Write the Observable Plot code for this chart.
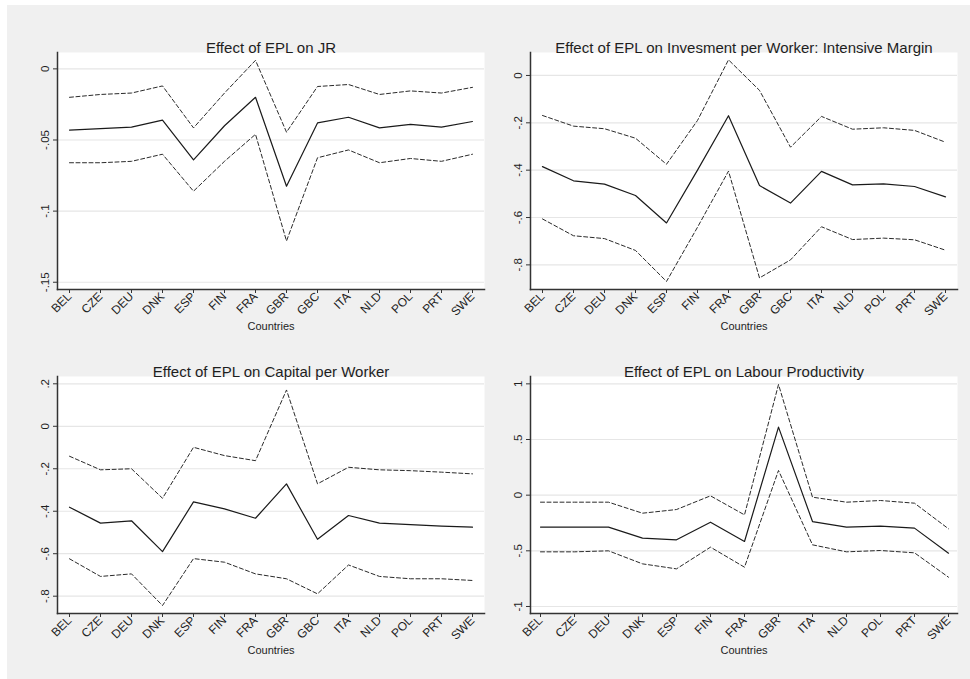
<!DOCTYPE html>
<html>
<head>
<meta charset="utf-8">
<script src="https://cdn.jsdelivr.net/npm/d3@7"></script>
<script src="https://cdn.jsdelivr.net/npm/@observablehq/plot@0.6"></script>
<style>
  html, body { margin: 0; padding: 0; background: #ffffff; }
  #page { position: relative; width: 970px; height: 679px; overflow: hidden; background: #ffffff; }
  #bg { position: absolute; left: 7px; top: 5px; width: 963px; height: 674px; background: #f0f0f0; }
  .panel { position: absolute; }
</style>
</head>
<body>
<div id="page"><div id="bg"></div></div>
<script>
// ---- Data ----
const countries14 = ["BEL","CZE","DEU","DNK","ESP","FIN","FRA","GBR","GBC","ITA","NLD","POL","PRT","SWE"];
const countries13 = ["BEL","CZE","DEU","DNK","ESP","FIN","FRA","GBR","ITA","NLD","POL","PRT","SWE"];

// Panel 1: Effect of EPL on JR
const jrEst = [-0.043,-0.042,-0.041,-0.036,-0.064,-0.040,-0.020,-0.0825,-0.038,-0.034,-0.0415,-0.039,-0.041,-0.037];
const jrHi  = [-0.020,-0.018,-0.017,-0.012,-0.0415,-0.017,0.006,-0.0445,-0.0124,-0.011,-0.018,-0.0155,-0.017,-0.013];
const jrLo  = [-0.066,-0.066,-0.065,-0.060,-0.086,-0.065,-0.046,-0.121,-0.0625,-0.057,-0.066,-0.063,-0.065,-0.060];
const jrTicks = [0,-0.05,-0.1,-0.15];

// Panel 2: Investment per worker, intensive margin
const invEst = [-0.385,-0.445,-0.459,-0.507,-0.623,-0.400,-0.170,-0.465,-0.539,-0.405,-0.462,-0.458,-0.469,-0.513];
const invHi  = [-0.169,-0.214,-0.225,-0.265,-0.375,-0.190,0.066,-0.063,-0.303,-0.173,-0.227,-0.221,-0.232,-0.282];
const invLo  = [-0.606,-0.677,-0.689,-0.739,-0.870,-0.641,-0.404,-0.855,-0.779,-0.639,-0.693,-0.687,-0.694,-0.738];
const invTicks = [0,-0.2,-0.4,-0.6,-0.8];

// Panel 3: Capital per worker
const capEst = [-0.381,-0.456,-0.445,-0.590,-0.356,-0.389,-0.433,-0.271,-0.532,-0.420,-0.456,-0.463,-0.470,-0.475];
const capHi  = [-0.141,-0.205,-0.200,-0.339,-0.099,-0.138,-0.162,0.171,-0.271,-0.193,-0.205,-0.209,-0.216,-0.224];
const capLo  = [-0.624,-0.707,-0.695,-0.844,-0.623,-0.640,-0.695,-0.718,-0.789,-0.653,-0.707,-0.718,-0.718,-0.726];
const capTicks = [0.2,0,-0.2,-0.4,-0.6,-0.8];

// Panel 4: Labour productivity
const lpEst = [-0.287,-0.287,-0.287,-0.386,-0.401,-0.243,-0.416,0.611,-0.237,-0.287,-0.278,-0.296,-0.521];
const lpHi  = [-0.063,-0.063,-0.063,-0.162,-0.129,-0.006,-0.177,0.994,-0.018,-0.063,-0.048,-0.072,-0.302];
const lpLo  = [-0.509,-0.509,-0.500,-0.617,-0.662,-0.467,-0.647,0.222,-0.446,-0.509,-0.497,-0.518,-0.737];
const lpTicks = [1,0.5,0,-0.5,-1];

const titles = [
  "Effect of EPL on JR",
  "Effect of EPL on Invesment per Worker: Intensive Margin",
  "Effect of EPL on Capital per Worker",
  "Effect of EPL on Labour Productivity"
];
const xLabel = "Countries";

// ---- Helpers ----
const stataFmt = v => {
  if (v === 0) return "0";
  let s = String(+v.toFixed(4));
  return s.replace(/^(-?)0\./, "$1.");
};

function rows(countries, est, lo, hi) {
  return countries.map((c, i) => ({country: c, est: est[i], lo: lo[i], hi: hi[i]}));
}

const FONT = "'Liberation Sans', Arial, Helvetica, sans-serif";
const INK = "#1e1e1e";

function panel({title, countries, est, lo, hi, ticks, domain, left, top, inset}) {
  const data = rows(countries, est, lo, hi);
  const plotW = 427, plotH = 237;
  const mL = 50, mR = 6, mT = 52, mB = 50;
  const chart = Plot.plot({
    width: plotW + mL + mR,
    height: plotH + mT + mB,
    marginLeft: mL, marginRight: mR, marginTop: mT, marginBottom: mB,
    style: {background: "transparent", fontFamily: FONT, color: INK, overflow: "visible"},
    x: {type: "point", domain: countries, padding: 0, insetLeft: inset, insetRight: inset},
    y: {domain: domain},
    marks: [
      Plot.frame({fill: "white", stroke: null}),
      Plot.gridY(ticks, {stroke: "#e6e6e6", strokeOpacity: 1, strokeWidth: 1.2}),
      Plot.line(data, {x: "country", y: "hi", stroke: "#2a2a2a", strokeWidth: 1, strokeDasharray: "4,2.5"}),
      Plot.line(data, {x: "country", y: "lo", stroke: "#2a2a2a", strokeWidth: 1, strokeDasharray: "4,2.5"}),
      Plot.line(data, {x: "country", y: "est", stroke: "#1a1a1a", strokeWidth: 1.2}),
      Plot.frame({anchor: "left", stroke: "#333", strokeWidth: 1.5}),
      Plot.frame({anchor: "bottom", stroke: "#333", strokeWidth: 1.5}),
      Plot.axisX({tickRotate: -45, tickSize: 4, tickPadding: 1, fontSize: 12, label: null, stroke: "#333"}),
      Plot.axisY(ticks, {tickRotate: -90, tickSize: 4, tickPadding: 5, fontSize: 11.5, label: null, tickFormat: stataFmt, stroke: "#333"}),
      Plot.text([xLabel], {frameAnchor: "bottom", dy: 40, fontSize: 11, fill: INK, letterSpacing: "0.6px"}),
      Plot.text([title], {frameAnchor: "top", dy: -10, fontSize: 15, fill: INK, letterSpacing: "0.35px"})
    ]
  });
  chart.classList.add("panel");
  chart.style.left = (left - mL) + "px";
  chart.style.top = (top - mT) + "px";
  chart.style.position = "absolute";
  document.getElementById("page").appendChild(chart);
}

panel({title: titles[0], countries: countries14, est: jrEst, lo: jrLo, hi: jrHi, ticks: jrTicks,
       domain: [-0.1551, 0.0115], left: 57, top: 52, inset: 8});
panel({title: titles[1], countries: countries14, est: invEst, lo: invLo, hi: invHi, ticks: invTicks,
       domain: [-0.904, 0.097], left: 530, top: 52, inset: 8});
panel({title: titles[2], countries: countries14, est: capEst, lo: capLo, hi: capHi, ticks: capTicks,
       domain: [-0.8815, 0.2344], left: 57, top: 376, inset: 8});
panel({title: titles[3], countries: countries13, est: lpEst, lo: lpLo, hi: lpHi, ticks: lpTicks,
       domain: [-1.063, 1.066], left: 530, top: 376, inset: 7});
</script>
</body>
</html>
